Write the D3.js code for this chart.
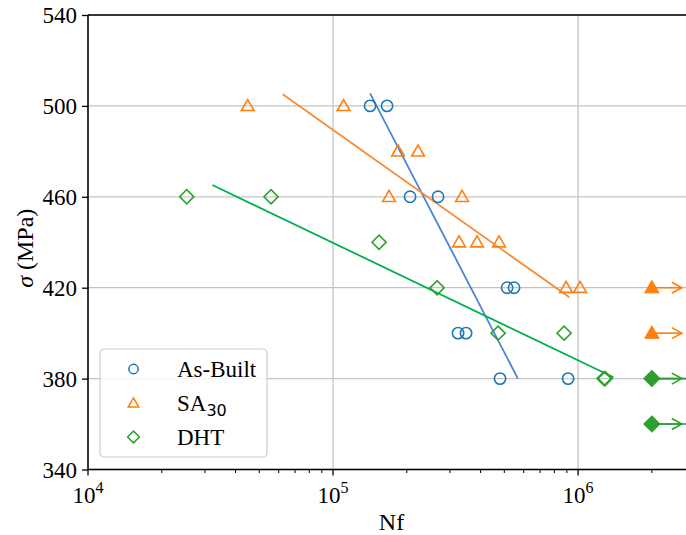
<!DOCTYPE html>
<html>
<head>
<meta charset="utf-8">
<script src="https://cdn.jsdelivr.net/npm/d3@7"></script>
<style>
  body { margin: 0; background: #fff; }
  svg { display: block; }
</style>
</head>
<body>
<svg id="chartSvg" width="686" height="535"></svg>
<script>
// Cycles to failure (Nf) and stress (MPa) for each series
const asBuiltN = [141600, 166100, 206200, 268300, 513200, 548000, 323700, 349000, 480300, 910500];
const asBuiltS = [500, 500, 460, 460, 420, 420, 400, 400, 380, 380];

const sa30N = [44850, 110400, 184200, 222300, 169300, 336100, 326800, 387000, 476000, 893500, 1019000];
const sa30S = [500, 500, 480, 480, 460, 460, 440, 440, 440, 420, 420];

const dhtN = [25290, 55830, 154100, 265800, 471600, 876900, 1276500, 1290000];
const dhtS = [460, 460, 440, 420, 400, 400, 380, 380];

// fitted lines (start / end)
const asBuiltFit = [[141600, 505.5], [567500, 380.1]];
const sa30Fit = [[62330, 505.1], [921000, 415.8]];
const dhtFit = [[32170, 465.2], [1394000, 380.6]];

// run-out specimens (no failure)
const runoutN = 2000000;
const runoutEnd = 2650000;
const asBuiltRunout = [380, 360];
const sa30Runout = [420, 400];
const dhtRunout = [380, 360];

const yTicks = [340, 380, 420, 460, 500, 540];
const xTicks = [1e4, 1e5, 1e6];

const colors = { asBuilt: "#1f77b4", sa30: "#ff7f0e", dht: "#2ca02c" };
const lineColors = { asBuilt: "#4a86d6", sa30: "#fb8a30", dht: "#00b050" };

const svg = d3.select("#chartSvg");
const margin = { left: 88, top: 15, right: 695, bottom: 469.5 };

const x = d3.scaleLog().domain([1e4, 3e6]).range([margin.left, margin.right]);
const y = d3.scaleLinear().domain([340, 540]).range([margin.bottom, margin.top]);

const serif = "'Liberation Serif', 'Times New Roman', serif";

// grid
const grid = svg.append("g");
grid.selectAll("line.gy")
  .data(yTicks)
  .enter()
  .append("line")
  .attr("x1", margin.left).attr("x2", margin.right)
  .attr("y1", d => y(d)).attr("y2", d => y(d))
  .style("stroke", "#c4c4c4").style("stroke-width", 1.3);
grid.selectAll("line.gx")
  .data(xTicks)
  .enter()
  .append("line")
  .attr("x1", d => x(d)).attr("x2", d => x(d))
  .attr("y1", margin.top).attr("y2", margin.bottom)
  .style("stroke", "#c4c4c4").style("stroke-width", 1.3);

// axes
const yAxis = svg.append("g")
  .attr("transform", `translate(${margin.left},0)`)
  .call(d3.axisLeft(y).tickValues(yTicks).tickSize(6).tickPadding(5).tickFormat(d3.format("d")));
yAxis.select(".domain").remove();
yAxis.selectAll(".tick line").style("stroke-width", 1.3);
yAxis.selectAll("text")
  .style("font-family", serif).style("font-size", "23px").attr("fill", "#000")
  .attr("dy", "0.34em");

const minorTicks = [];
[1e4, 1e5, 1e6].forEach(dec => {
  for (let k = 2; k <= 9; k++) if (dec * k <= 3e6) minorTicks.push(dec * k);
});

const xAxis = svg.append("g")
  .attr("transform", `translate(0,${margin.bottom})`);
xAxis.selectAll("line.minor")
  .data(minorTicks)
  .enter()
  .append("line")
  .attr("x1", d => x(d)).attr("x2", d => x(d))
  .attr("y1", 0).attr("y2", 3.5)
  .style("stroke", "#000").style("stroke-width", 1);
xAxis.selectAll("line.major")
  .data(xTicks)
  .enter()
  .append("line")
  .attr("x1", d => x(d)).attr("x2", d => x(d))
  .attr("y1", 0).attr("y2", 6)
  .style("stroke", "#000").style("stroke-width", 1.3);
const xLabels = xAxis.selectAll("text.xl")
  .data(xTicks)
  .enter()
  .append("text")
  .attr("x", d => x(d))
  .attr("y", 33.5)
  .attr("text-anchor", "middle")
  .style("font-family", serif).style("font-size", "23px");
xLabels.append("tspan").text("10");
xLabels.append("tspan")
  .attr("dy", -10)
  .style("font-size", "16px")
  .text(d => Math.round(Math.log10(d)));

// spines
svg.append("line")
  .attr("x1", margin.left).attr("x2", margin.left)
  .attr("y1", margin.top).attr("y2", margin.bottom)
  .style("stroke", "#000").style("stroke-width", 1.5);
svg.append("line")
  .attr("x1", margin.left).attr("x2", margin.right)
  .attr("y1", margin.top).attr("y2", margin.top)
  .style("stroke", "#000").style("stroke-width", 1.5);
svg.append("line")
  .attr("x1", margin.left).attr("x2", margin.right)
  .attr("y1", margin.bottom).attr("y2", margin.bottom)
  .style("stroke", "#000").style("stroke-width", 1.5);

// axis titles
svg.append("text")
  .attr("x", (margin.left + margin.right) / 2)
  .attr("y", 530)
  .attr("text-anchor", "middle")
  .style("font-family", serif).style("font-size", "24px")
  .text("Nf");
const yTitle = svg.append("text")
  .attr("transform", `translate(33,${(margin.top + margin.bottom) / 2 + 6}) rotate(-90)`)
  .attr("text-anchor", "middle")
  .style("font-family", serif).style("font-size", "24px");
yTitle.append("tspan").style("font-style", "italic").text("σ");
yTitle.append("tspan").text(" (MPa)");

// fit lines
const fitLine = d3.line().x(d => x(d[0])).y(d => y(d[1]));
[[asBuiltFit, lineColors.asBuilt], [sa30Fit, lineColors.sa30], [dhtFit, lineColors.dht]].forEach(([pts, c]) => {
  svg.append("path")
    .attr("d", fitLine(pts))
    .style("fill", "none").style("stroke", c).style("stroke-width", 1.8);
});

// markers
const sym = {
  circle: d3.symbol().type(d3.symbolCircle).size(100),
  triangle: d3.symbol().type(d3.symbolTriangle).size(70),
  diamond: d3.symbol().type(d3.symbolSquare).size(100)
};
function markerPath(kind) { return sym[kind](); }
function markerTransform(kind, px, py) {
  if (kind === "diamond") return `translate(${px},${py}) rotate(45)`;
  if (kind === "triangle") return `translate(${px},${py + 1})`;
  return `translate(${px},${py})`;
}

function drawSeries(ns, ss, kind, color) {
  svg.append("g").selectAll("path")
    .data(ns.map((n, i) => [n, ss[i]]))
    .enter()
    .append("path")
    .attr("d", markerPath(kind))
    .attr("transform", d => markerTransform(kind, x(d[0]), y(d[1])))
    .style("fill", "none")
    .style("stroke", color)
    .style("stroke-width", 1.6);
}

drawSeries(asBuiltN, asBuiltS, "circle", colors.asBuilt);
drawSeries(sa30N, sa30S, "triangle", colors.sa30);
drawSeries(dhtN, dhtS, "diamond", colors.dht);

// run-out arrows
function drawRunout(vals, kind, color, endN, size) {
  const g = svg.append("g");
  vals.forEach(v => {
    const x0 = x(runoutN), x1 = x(endN), yy = y(v);
    g.append("line")
      .attr("x1", x0).attr("x2", x1)
      .attr("y1", yy).attr("y2", yy)
      .style("stroke", color).style("stroke-width", 1.6);
    g.append("path")
      .attr("d", `M${x1 - 10},${yy - 5.5}L${x1},${yy}L${x1 - 10},${yy + 5.5}`)
      .style("fill", "none").style("stroke", color).style("stroke-width", 1.6);
    g.append("path")
      .attr("d", d3.symbol().type(kind === "diamond" ? d3.symbolSquare : (kind === "triangle" ? d3.symbolTriangle : d3.symbolCircle)).size(size)())
      .attr("transform", markerTransform(kind, x0, yy))
      .style("fill", color).style("stroke", color).style("stroke-width", 1);
  });
}
drawRunout(asBuiltRunout, "circle", colors.asBuilt, 3.3e6, 60);
drawRunout(sa30Runout, "triangle", colors.sa30, runoutEnd, 90);
drawRunout(dhtRunout, "diamond", colors.dht, runoutEnd, 130);

// legend
const legend = svg.append("g").attr("transform", "translate(100,349)");
legend.append("rect")
  .attr("width", 167).attr("height", 108)
  .attr("rx", 4)
  .style("fill", "#fff").style("fill-opacity", 0.85)
  .style("stroke", "#cccccc").style("stroke-width", 1.2);
const legendItems = [
  { label: "As-Built", kind: "circle", color: colors.asBuilt },
  { label: "SA", sub: "30", kind: "triangle", color: colors.sa30 },
  { label: "DHT", kind: "diamond", color: colors.dht }
];
legendItems.forEach((it, i) => {
  const cy = 20 + i * 34;
  legend.append("path")
    .attr("d", d3.symbol().type(it.kind === "diamond" ? d3.symbolSquare : (it.kind === "triangle" ? d3.symbolTriangle : d3.symbolCircle)).size(it.kind === "circle" ? 68 : (it.kind === "triangle" ? 48 : 70))())
    .attr("transform", markerTransform(it.kind, 33.5, cy))
    .style("fill", "none").style("stroke", it.color).style("stroke-width", 1.5);
  const t = legend.append("text")
    .attr("x", 77).attr("y", cy + 8)
    .style("font-family", serif).style("font-size", "23px");
  t.append("tspan").text(it.label);
  if (it.sub) {
    t.append("tspan")
      .attr("dy", 5)
      .style("font-family", "'DejaVu Sans', sans-serif")
      .style("font-size", "16px")
      .text(it.sub);
  }
});
</script>
</body>
</html>
